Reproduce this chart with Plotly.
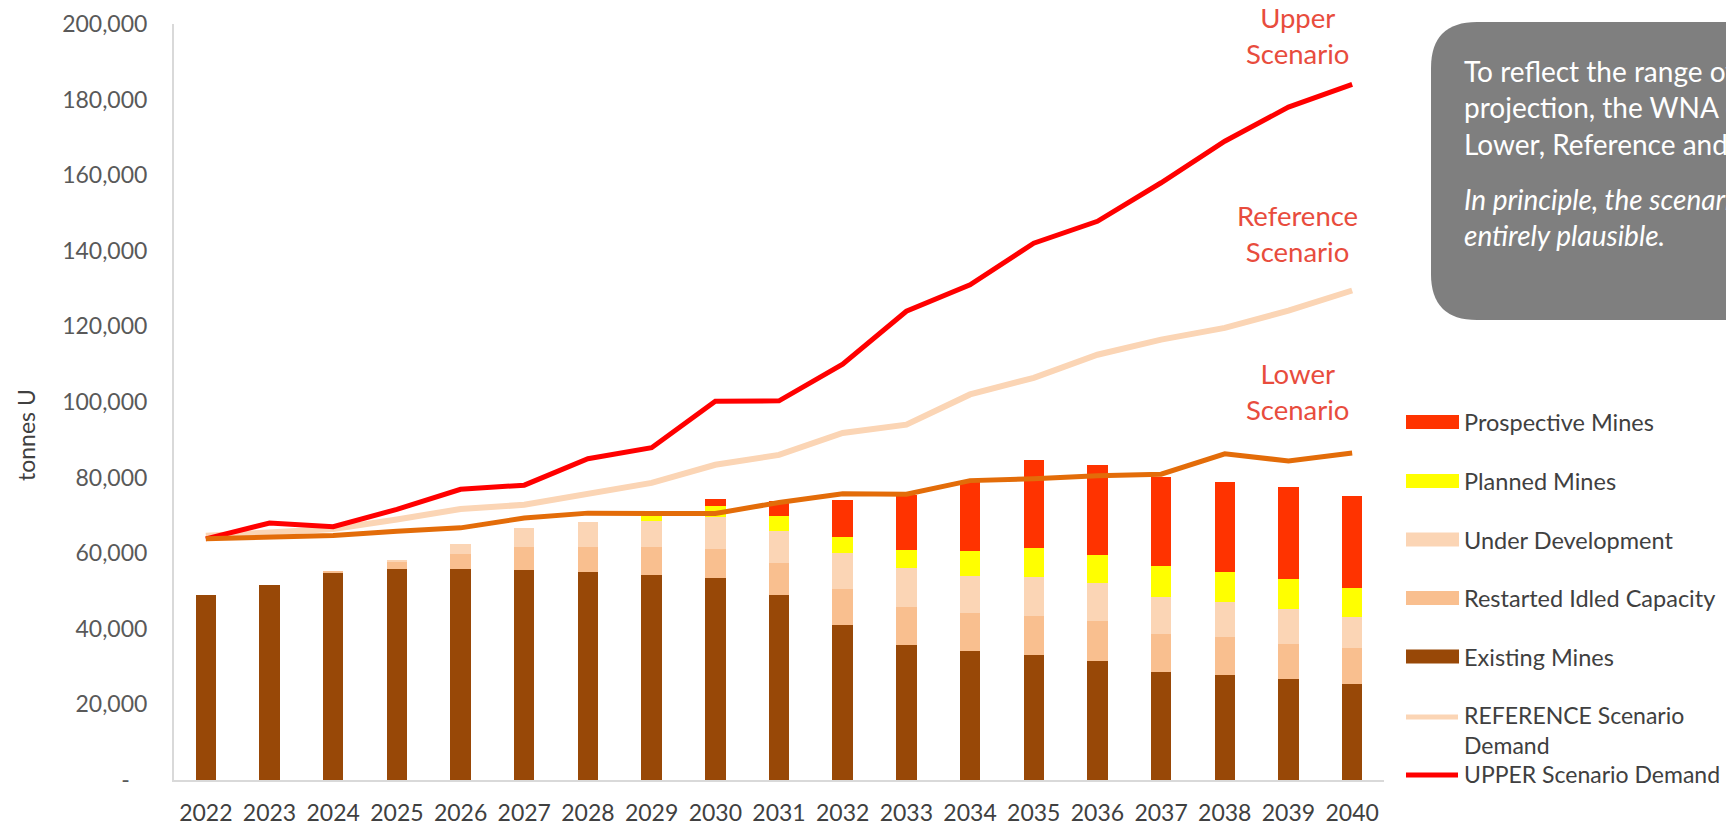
import plotly.graph_objects as go

# ---------------- data ----------------
years = [str(y) for y in range(2022, 2041)]
existing = [48900, 51700, 54800, 55700, 55900, 55600, 55000, 54300, 53500, 49000,
            41100, 35800, 34100, 33200, 31600, 28500, 27900, 26700, 25500]
restarted = [0, 0, 300, 2100, 4000, 6000, 6600, 7300, 7700, 8500,
             9300, 10100, 10000, 10300, 10500, 10000, 9800, 9400, 9500]
under_dev = [0, 0, 0, 300, 2600, 5200, 6600, 6900, 8500, 8400,
             9600, 10100, 9900, 10100, 9900, 9900, 9400, 9200, 8000]
planned = [0, 0, 0, 0, 0, 0, 0, 1500, 2900, 3900,
           4300, 4800, 6600, 7800, 7500, 8100, 7800, 7800, 7700]
prospective = [0, 0, 0, 0, 0, 0, 0, 0, 1800, 4100,
               9800, 14700, 18400, 23200, 23900, 23700, 24000, 24500, 24400]
upper = [63800, 68000, 67000, 71600, 76900, 78000, 85000, 87900, 100200, 100300,
         110000, 124000, 131000, 142000, 147800, 158000, 169000, 178000, 184000]
reference = [64600, 65400, 66400, 68900, 71700, 72800, 75700, 78600, 83400, 86000,
             91800, 94000, 102000, 106400, 112500, 116500, 119600, 124200, 129500]
lower = [63800, 64200, 64700, 65800, 66700, 69300, 70600, 70500, 70500, 73400,
         75700, 75600, 79200, 79700, 80500, 80900, 86300, 84400, 86500]
y_ticks = [0, 20000, 40000, 60000, 80000, 100000, 120000, 140000, 160000, 180000, 200000]
y_ticktext = [f"{v:,}" if v else "-\u00a0\u00a0\u00a0" for v in y_ticks]

bar_series = [
    ("Existing Mines", existing, "#984807"),
    ("Restarted Idled Capacity", restarted, "#F9BF8F"),
    ("Under Development", under_dev, "#FBD5B5"),
    ("Planned Mines", planned, "#FFFF00"),
    ("Prospective Mines", prospective, "#FF3300"),
]
line_series = [
    ("REFERENCE Scenario Demand", reference, "#FBD5B5", 6),
    ("UPPER Scenario Demand", upper, "#FF0000", 5),
    ("LOWER Scenario Demand", lower, "#E36C09", 5),
]

FONT = "Lato"
W, H = 1726, 825
L, R, T, B = 174, 1384, 24, 780


def px(x):
    return (x - L) / (R - L)


def py(y):
    return (B - y) / (B - T)


fig = go.Figure()
for name, vals, col in bar_series:
    fig.add_trace(go.Bar(x=years, y=vals, name=name, marker=dict(color=col, line=dict(width=0)),
                         showlegend=False))
for name, vals, col, w in line_series:
    fig.add_trace(go.Scatter(x=years, y=vals, name=name, mode="lines",
                             line=dict(color=col, width=w), showlegend=False))

shapes = []
annotations = []


def text_at(x, y, txt, size, color, anchor="left", angle=0, align="left"):
    annotations.append(dict(xref="paper", yref="paper", x=px(x), y=py(y), xanchor=anchor,
                            yanchor="middle", showarrow=False, text=txt, textangle=angle,
                            align=align, font=dict(family=FONT, size=size, color=color)))


# grey rounded text box (runs off the right edge)
bx0, bx1, by0, by1, rad = 1431, 1800, 22, 320, 46
path = (f"M {px(bx0 + rad)} {py(by0)} L {px(bx1)} {py(by0)} L {px(bx1)} {py(by1)} "
        f"L {px(bx0 + rad)} {py(by1)} Q {px(bx0)} {py(by1)} {px(bx0)} {py(by1 - rad)} "
        f"L {px(bx0)} {py(by0 + rad)} Q {px(bx0)} {py(by0)} {px(bx0 + rad)} {py(by0)} Z")
shapes.append(dict(type="path", xref="paper", yref="paper", path=path,
                   fillcolor="#7F7F7F", line=dict(width=0), layer="above"))
text_at(1462, 107.9, "To reflect the range of uncertainty in the demand<br>"
                     "projection, the WNA considers three scenarios:<br>"
                     "Lower, Reference and Upper.", 28, "white")
text_at(1462, 217.4, "<i>In principle, the scenarios are all<br>entirely plausible.</i>",
        28, "white")

# scenario labels
for txt, yc in [("Upper<br>Scenario", 35.8), ("Reference<br>Scenario", 233.4),
                ("Lower<br>Scenario", 391.4)]:
    text_at(1297, yc, txt, 27.5, "#E84C3D", anchor="center", align="center")

# y-axis title
text_at(26, 435, "tonnes U", 23, "#404040", anchor="center", angle=-90)

# custom legend
leg_rows = [("Prospective Mines", "#FF3300", 422), ("Planned Mines", "#FFFF00", 481),
            ("Under Development", "#FBD5B5", 539.5), ("Restarted Idled Capacity", "#F9BF8F", 598),
            ("Existing Mines", "#984807", 656.5)]
for txt, col, yc in leg_rows:
    shapes.append(dict(type="rect", xref="paper", yref="paper", x0=px(1406), x1=px(1459),
                       y0=py(yc + 7), y1=py(yc - 7), fillcolor=col, line=dict(width=0)))
    text_at(1462, yc, txt, 23.5, "#404040")
for col, yl in [("#FBD5B5", 717), ("#FF0000", 775)]:
    shapes.append(dict(type="line", xref="paper", yref="paper", x0=px(1406), x1=px(1458),
                       y0=py(yl), y1=py(yl), line=dict(color=col, width=5)))
text_at(1462, 729.5, "REFERENCE Scenario<br>Demand", 23, "#404040")
text_at(1462, 774, "UPPER Scenario Demand", 23, "#404040")

fig.update_layout(
    width=W, height=H, barmode="stack", bargap=0.68,
    paper_bgcolor="white", plot_bgcolor="white",
    margin=dict(l=L, r=W - R, t=T, b=H - B, pad=0, autoexpand=False),
    font=dict(family=FONT, color="#595959"),
    shapes=shapes, annotations=annotations, showlegend=False,
)
fig.update_xaxes(type="category", showline=True, linecolor="#D9D9D9", linewidth=2,
                 showgrid=False, ticks="outside", ticklen=11, tickcolor="rgba(0,0,0,0)",
                 automargin=False,
                 tickfont=dict(family=FONT, size=23, color="#404040"))
fig.update_yaxes(range=[0, 200000], tickvals=y_ticks, ticktext=y_ticktext, showline=True,
                 linecolor="#D9D9D9", linewidth=2, showgrid=False, zeroline=False,
                 ticks="outside", ticklen=20, tickcolor="rgba(0,0,0,0)", automargin=False,
                 tickfont=dict(family=FONT, size=23, color="#595959"))

fig.write_html("out.html", config={"displayModeBar": False},
               post_script="document.body.style.margin='0';document.body.style.overflow='hidden';")
